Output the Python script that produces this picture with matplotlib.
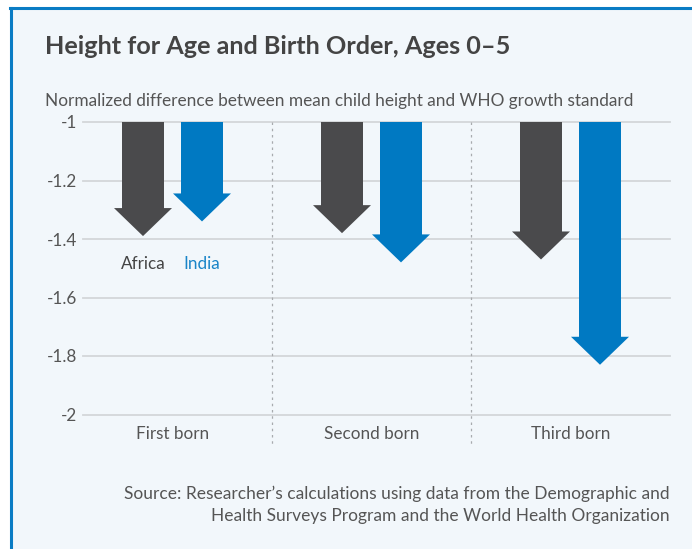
import numpy as np
import matplotlib.pyplot as plt
from matplotlib.patches import Rectangle
from matplotlib.lines import Line2D

# data
categories = ["First born", "Second born", "Third born"]
africa = [-1.39, -1.38, -1.47]
india = [-1.34, -1.48, -1.83]
yticks = [-1, -1.2, -1.4, -1.6, -1.8, -2]
ytick_labels = ["-1", "-1.2", "-1.4", "-1.6", "-1.8", "-2"]

W, H = 692, 549
fig = plt.figure(figsize=(W / 100, H / 100), dpi=100)
fig.patch.set_facecolor("white")
plt.rcParams['font.family'] = ['Lato', 'DejaVu Sans']

bg = "#f2f7fb"
border = "#0a7cc4"
dark = "#4a4a4c"
blue = "#0079c2"
text_grey = "#555555"

def fx(px):
    return px / W

def fy(py):
    return 1 - py / H

# panel background and the blue left/top border
fig.add_artist(Rectangle((fx(10), 0), 1, fy(7), transform=fig.transFigure,
                         facecolor=bg, edgecolor="none", zorder=0))
fig.add_artist(Line2D([fx(10.5), fx(10.5)], [0, fy(7.5)], transform=fig.transFigure,
                      color=border, lw=2.2, zorder=1))
fig.add_artist(Line2D([fx(9.5), 1], [fy(7.5), fy(7.5)], transform=fig.transFigure,
                      color=border, lw=2.2, zorder=1))

# titles
fig.text(fx(45), fy(47), "Height for Age and Birth Order, Ages 0\u20135",
         fontsize=18.2, fontweight="bold", color="#444444", va="center", ha="left")
fig.text(fx(45), fy(101), "Normalized difference between mean child height and WHO growth standard",
         fontsize=12.4, color=text_grey, va="center", ha="left")

# plot area: -1 at y=122 px, -2 at y=414.5 px, categories 73..670 px
left, right, top, bottom = 73, 670, 122, 414.5
ax = fig.add_axes([fx(left), fy(bottom), fx(right - left), (bottom - top) / H])
ax.set_facecolor("none")
ax.set_xlim(-0.5, 2.5)
ax.set_ylim(-2, -1)
for s in ax.spines.values():
    s.set_visible(False)

# horizontal grid lines
for v in yticks:
    ax.axhline(v, xmin=(83 - left) / (right - left), xmax=1, color="#d3d6d9", lw=1.3, zorder=1, clip_on=False)

# dotted category separators
for xs in [0.5, 1.5]:
    ax.plot([xs, xs], [-1, -2.105], color="#a8abae", lw=0.9, ls=(0, (2, 3)), clip_on=False, zorder=1)

ax.set_yticks(yticks)
ax.set_yticklabels(ytick_labels)
ax.tick_params(axis="y", length=0, pad=-3, labelsize=12.3, labelcolor=text_grey)
ax.set_xticks([])

# arrows
cat_px = (right - left) / 3
y_px = bottom - top
off = 29.5 / cat_px
shaft = 42 / cat_px
head_w = 58 / cat_px
head_l = 28 / y_px
x = np.arange(len(categories))
for i in x:
    for vals, dx, col in [(africa, -off, dark), (india, off, blue)]:
        ax.arrow(i + dx, -1, 0, vals[i] + 1, width=shaft, head_width=head_w,
                 head_length=head_l, length_includes_head=True,
                 facecolor=col, edgecolor="none", zorder=3, clip_on=False)

# series labels
ax.text(0 - off, -1.487, "Africa", color="#444444", fontsize=12.3, ha="center", va="center")
ax.text(0 + off, -1.487, "India", color="#1a85c8", fontsize=12.3, ha="center", va="center")

# category labels
for i, c in enumerate(categories):
    ax.text(i, -2.065, c, color=text_grey, fontsize=12.3, ha="center", va="center", clip_on=False)

# source
fig.text(fx(670), fy(494), "Source: Researcher\u2019s calculations using data from the Demographic and",
         fontsize=12.5, color=text_grey, ha="right", va="center")
fig.text(fx(670), fy(516), "Health Surveys Program and the World Health Organization",
         fontsize=12.5, color=text_grey, ha="right", va="center")

fig.savefig("out.png", dpi=100, facecolor=fig.get_facecolor())
